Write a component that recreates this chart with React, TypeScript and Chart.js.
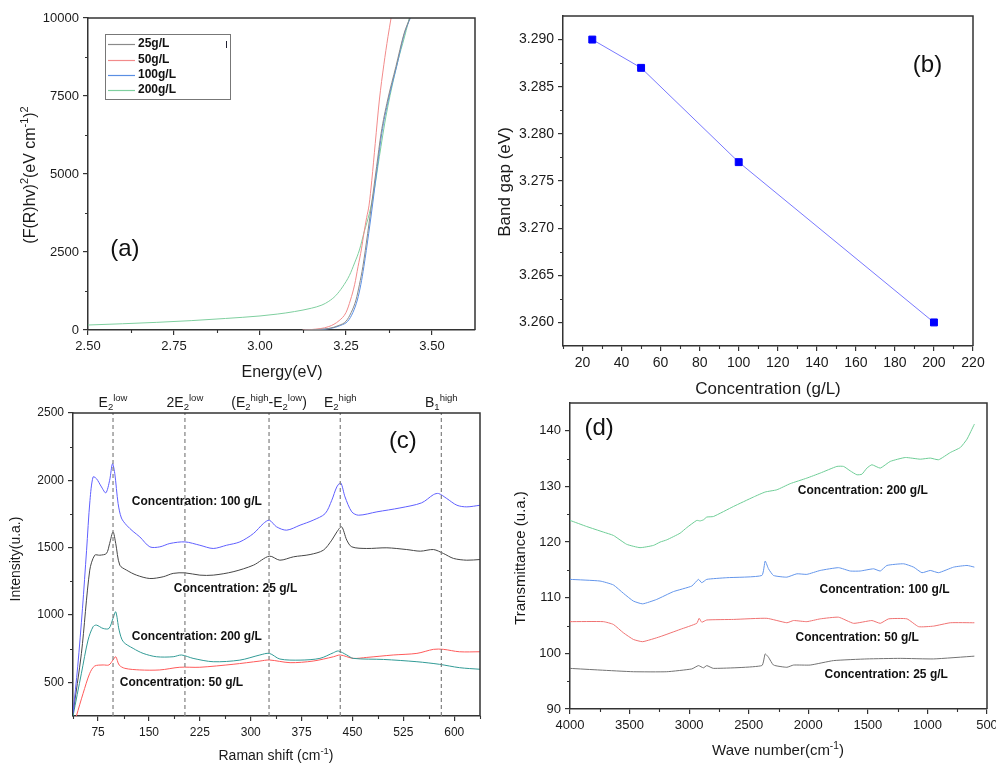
import React, { useEffect, useRef } from 'react';
import { Chart, registerables } from 'chart.js';
Chart.register(...registerables);

const FONT = "Arial, 'Liberation Sans', Helvetica, sans-serif";
const W = 996;
const H = 763;

// ---------- (a) Tauc plot ----------
const aLegend = ['25g/L', '50g/L', '100g/L', '200g/L'];
const aE25 = [3.124, 3.15, 3.2, 3.23, 3.25, 3.265, 3.279, 3.289, 3.299, 3.313, 3.326, 3.339, 3.352, 3.371, 3.395, 3.419, 3.436];
const aV25 = [0, 10, 50, 150, 280, 560, 962, 1450, 2030, 3098, 4167, 5235, 6303, 7372, 8440, 9509, 10000];
const aE50 = [3.124, 3.15, 3.2, 3.23, 3.25, 3.263, 3.275, 3.285, 3.295, 3.302, 3.31, 3.317, 3.325, 3.335, 3.347, 3.36, 3.372, 3.381];
const aV50 = [0, 15, 110, 300, 560, 962, 1450, 2030, 2600, 3098, 3600, 4000, 4800, 5980, 7372, 8500, 9400, 10000];
const aE100 = [3.13, 3.155, 3.205, 3.235, 3.255, 3.27, 3.283, 3.293, 3.302, 3.316, 3.329, 3.341, 3.354, 3.373, 3.397, 3.42, 3.437];
const aV100 = [0, 10, 50, 150, 280, 560, 962, 1450, 2030, 3098, 4167, 5235, 6303, 7372, 8440, 9509, 10000];
const aE200 = [2.5, 2.6, 2.7, 2.8, 2.9, 3.0, 3.05, 3.1, 3.15, 3.18, 3.2, 3.22, 3.24, 3.26, 3.275, 3.289, 3.303, 3.318, 3.332, 3.347, 3.366, 3.39, 3.405, 3.415, 3.425, 3.434];
const aV200 = [160, 200, 245, 300, 370, 450, 510, 590, 700, 800, 920, 1100, 1380, 1750, 2150, 2564, 3150, 3740, 4487, 5556, 6838, 8120, 8800, 9188, 9600, 10000];
const aXTicks = [2.5, 2.75, 3.0, 3.25, 3.5];
const aXMinor = [2.625, 2.875, 3.125, 3.375];
const aYTicks = [0, 2500, 5000, 7500, 10000];
const aYMinor = [1250, 3750, 6250, 8750];

// ---------- (b) Band gap ----------
const bConc = [25, 50, 100, 200];
const bGap = [3.29, 3.287, 3.277, 3.26];
const bXTicks = [20, 40, 60, 80, 100, 120, 140, 160, 180, 200, 220];
const bXMinor = [10, 30, 50, 70, 90, 110, 130, 150, 170, 190, 210];
const bYTicks = [3.26, 3.265, 3.27, 3.275, 3.28, 3.285, 3.29];
const bYMinor = [3.2625, 3.2675, 3.2725, 3.2775, 3.2825, 3.2875];

// ---------- (c) Raman ----------
const c100X = [38, 45, 52, 58, 63, 67.6, 72.5, 80, 86.4, 92, 96.2, 99.6, 104.5, 109.4, 116.9, 126.7, 136.5, 151.3, 166, 180.8, 203, 225, 244.7, 264.4, 284, 304, 318.6, 327.4, 338, 353, 372.7, 392, 409.7, 419.5, 426.9, 432.7, 439, 449, 459, 486, 520, 552, 569.5, 577, 589, 604, 618.5, 638];
const c100Y = [270, 620, 1050, 1480, 1850, 2025, 2013, 1951, 1907, 2000, 2124, 2050, 1828, 1720, 1667, 1620, 1580, 1506, 1506, 1531, 1543, 1518, 1494, 1518, 1543, 1605, 1679, 1704, 1655, 1630, 1667, 1704, 1753, 1852, 1951, 1981, 1877, 1766, 1741, 1766, 1795, 1833, 1894, 1902, 1865, 1815, 1803, 1815];
const c25X = [38, 50.4, 62.7, 70, 77.5, 87.3, 92, 97, 101, 107, 117, 131.6, 151.3, 171, 185.7, 203, 225, 244.7, 274, 304, 327.4, 343, 363, 387.5, 407, 419.5, 427, 434, 441.6, 449, 471, 500.7, 530, 550, 569.5, 584, 599, 618.5, 638];
const c25Y = [270, 715, 1333, 1444, 1444, 1457, 1531, 1617, 1531, 1370, 1333, 1296, 1271, 1284, 1309, 1313, 1296, 1296, 1321, 1370, 1437, 1407, 1432, 1449, 1481, 1556, 1617, 1655, 1556, 1506, 1494, 1499, 1486, 1474, 1486, 1457, 1420, 1407, 1412];
const c200X = [38, 50.4, 60.2, 67.6, 72.5, 82.4, 91, 97, 101, 106, 112, 126.7, 141.4, 161, 185.7, 198, 215, 244.7, 284, 313.5, 327.4, 343, 372.7, 402, 422, 429, 441.6, 451, 495.8, 545, 578, 607.6, 638];
const c200Y = [250, 567, 814, 913, 925, 900, 900, 975, 1024, 888, 802, 752, 715, 690, 690, 703, 678, 653, 665, 703, 715, 673, 665, 678, 720, 733, 703, 678, 670, 653, 634, 609, 597];
const c50X = [43, 52.9, 62.7, 70, 82.4, 91, 97, 101, 106, 114.4, 136.5, 166, 195.5, 225, 274, 313.5, 327.4, 358, 392, 422, 432, 451, 471, 510, 545, 569.5, 584, 607.6, 638];
const c50Y = [250, 418, 567, 621, 629, 629, 666, 690, 629, 604, 592, 592, 612, 612, 634, 658, 666, 646, 658, 690, 703, 678, 685, 703, 715, 745, 745, 727, 727];
const cModes = [97, 203, 327, 432, 581];
const cXTicks = [75, 150, 225, 300, 375, 450, 525, 600];
const cXMinor = [37.5, 112.5, 187.5, 262.5, 337.5, 412.5, 487.5, 562.5, 637.5];
const cYTicks = [500, 1000, 1500, 2000, 2500];
const cYMinor = [750, 1250, 1750, 2250];

// ---------- (d) FTIR ----------
const d200X = [4000, 3860, 3720, 3636, 3524, 3412, 3300, 3244, 3188, 3076, 3020, 2936, 2908, 2880, 2852, 2796, 2628, 2460, 2362, 2264, 2152, 2012, 1900, 1760, 1704, 1648, 1592, 1550, 1508, 1466, 1396, 1312, 1186, 1060, 976, 906, 808, 724, 668, 606];
const d200Y = [123.9, 122.8, 121.8, 121.2, 119.6, 119.0, 119.4, 120.0, 120.4, 121.6, 122.6, 123.9, 123.8, 124.0, 124.5, 124.6, 126.4, 128.1, 129.0, 129.4, 130.5, 131.5, 132.4, 133.6, 133.6, 132.8, 132.1, 132.2, 133.3, 133.9, 133.3, 134.5, 135.2, 134.9, 135.1, 134.8, 136.1, 137.0, 138.5, 141.2];
const d100X = [4000, 3748, 3636, 3552, 3468, 3390, 3272, 3132, 2978, 2922, 2894, 2852, 2684, 2390, 2362, 2334, 2292, 2180, 2096, 2012, 1900, 1746, 1648, 1564, 1452, 1396, 1340, 1200, 1116, 1046, 976, 906, 780, 668, 606];
const d100Y = [113.3, 113.0, 112.3, 110.8, 109.4, 108.9, 109.7, 111.1, 112.1, 113.3, 112.7, 113.3, 113.6, 114.0, 116.6, 115.2, 114.0, 113.7, 114.3, 114.2, 114.9, 115.4, 114.8, 114.8, 115.2, 114.8, 115.8, 116.1, 115.5, 114.5, 114.9, 114.5, 115.5, 115.8, 115.5];
const d50X = [4000, 3720, 3636, 3552, 3468, 3390, 3244, 3076, 2936, 2916, 2894, 2852, 2628, 2348, 2180, 2124, 2012, 1900, 1746, 1620, 1466, 1396, 1326, 1172, 1074, 948, 808, 606];
const d50Y = [105.7, 105.7, 105.2, 103.7, 102.5, 102.1, 103.0, 104.3, 105.4, 106.3, 105.6, 106.0, 106.1, 106.3, 105.5, 105.9, 105.7, 106.2, 106.5, 105.4, 105.9, 105.4, 106.2, 106.2, 104.8, 104.9, 105.5, 105.5];
const d25X = [4000, 3748, 3468, 3188, 2978, 2922, 2880, 2852, 2796, 2390, 2362, 2334, 2292, 2180, 2124, 1984, 1788, 1508, 1228, 948, 606];
const d25Y = [97.3, 97.0, 96.7, 96.7, 97.2, 97.8, 97.4, 97.8, 97.3, 97.8, 99.9, 99.3, 97.9, 97.5, 97.9, 97.9, 98.7, 99.0, 99.1, 99.0, 99.5];
const dXTicks = [4000, 3500, 3000, 2500, 2000, 1500, 1000, 500];
const dXMinor = [3750, 3250, 2750, 2250, 1750, 1250, 750];
const dYTicks = [90, 100, 110, 120, 130, 140];
const dYMinor = [95, 105, 115, 125, 135];

// ---------- helpers ----------
const pts = (xs: number[], ys: number[]) => xs.map((x, i) => ({ x, y: ys[i] }));

type Seg = [string, number]; // 0 normal, 1 sup, -1 sub

function drawRich(ctx: CanvasRenderingContext2D, segs: Seg[], cx: number, cy: number, size: number,
  opt: { rotate?: boolean; align?: 'center' | 'left'; weight?: string; color?: string } = {}) {
  const weight = opt.weight || 'normal';
  ctx.save();
  ctx.translate(cx, cy);
  if (opt.rotate) ctx.rotate(-Math.PI / 2);
  ctx.fillStyle = opt.color || '#1a1a1a';
  ctx.textAlign = 'left';
  ctx.textBaseline = 'alphabetic';
  let total = 0;
  const parts = segs.map(([t, k]) => {
    const fs = k ? size * 0.68 : size;
    ctx.font = `${weight} ${fs}px ${FONT}`;
    const w = ctx.measureText(t).width;
    total += w;
    return { t, k, fs, w };
  });
  let x = opt.align === 'left' ? 0 : -total / 2;
  const base = size * 0.36;
  for (const p of parts) {
    ctx.font = `${weight} ${p.fs}px ${FONT}`;
    const dy = p.k === 1 ? -size * 0.42 : p.k === -1 ? size * 0.24 : 0;
    ctx.fillText(p.t, x, base + dy);
    x += p.w;
  }
  ctx.restore();
}

function axis(pos: 'left' | 'bottom', min: number, max: number, ticks: number[], fmt: (v: number) => string, size: number, extra: any = {}) {
  return {
    type: 'linear',
    position: pos,
    min,
    max,
    ...extra,
    afterBuildTicks: (s: any) => { s.ticks = ticks.map((v) => ({ value: v })); },
    afterFit: (s: any) => {
      if (pos === 'left') s.width = 60; else s.height = 40;
      s.paddingLeft = 0; s.paddingRight = 0; s.paddingTop = 0; s.paddingBottom = 0;
    },
    ticks: {
      callback: (v: any) => fmt(Number(v)),
      font: { family: FONT, size },
      color: '#1a1a1a',
      padding: 4,
      autoSkip: false,
      maxRotation: 0,
      minRotation: 0,
    },
    grid: { drawOnChartArea: false, drawTicks: true, tickLength: 5, color: '#333', lineWidth: 1.2 },
    border: { display: true, color: '#333', width: 1.5 },
    title: { display: false },
  };
}

function deco(minX: number[], minY: number[], draw: (c: any, ctx: CanvasRenderingContext2D) => void) {
  return {
    id: 'deco',
    afterDraw(chart: any) {
      const { ctx, chartArea: a, scales } = chart;
      ctx.save();
      ctx.strokeStyle = '#333';
      ctx.lineWidth = 1.5;
      ctx.beginPath();
      ctx.moveTo(a.left, a.top);
      ctx.lineTo(a.right, a.top);
      ctx.lineTo(a.right, a.bottom);
      ctx.stroke();
      ctx.lineWidth = 1.1;
      ctx.beginPath();
      minX.forEach((v) => {
        const px = Math.round(scales.x.getPixelForValue(v)) + 0.5;
        ctx.moveTo(px, a.bottom);
        ctx.lineTo(px, a.bottom + 3);
      });
      minY.forEach((v) => {
        const py = Math.round(scales.y.getPixelForValue(v)) + 0.5;
        ctx.moveTo(a.left, py);
        ctx.lineTo(a.left - 3, py);
      });
      ctx.stroke();
      draw(chart, ctx);
      ctx.restore();
    },
  };
}

function label(ctx: CanvasRenderingContext2D, s: string, x: number, y: number, size: number, bold = false, align: CanvasTextAlign = 'center') {
  ctx.save();
  ctx.font = `${bold ? 'bold ' : ''}${size}px ${FONT}`;
  ctx.fillStyle = '#111';
  ctx.textAlign = align;
  ctx.textBaseline = 'middle';
  ctx.fillText(s, x, y);
  ctx.restore();
}

function baseOptions(area: { l: number; t: number; r: number; b: number }, scales: any) {
  return {
    responsive: false,
    animation: false,
    events: [],
    layout: { padding: { left: area.l - 60, top: area.t, right: W - area.r, bottom: H - area.b - 40 } },
    plugins: { legend: { display: false }, tooltip: { enabled: false } },
    scales,
  };
}

const line = (data: any[], color: string, extra: any = {}) => ({
  data,
  borderColor: color,
  backgroundColor: color,
  borderWidth: 1,
  pointRadius: 0,
  fill: false,
  ...extra,
});

// ---------- chart configs ----------
const aColors = ['#8a8a8a', '#f28b8b', '#5a8fe3', '#7fcf9f'];

function makeA(): any {
  return {
    type: 'line',
    data: {
      datasets: [
        line(pts(aE25, aV25), aColors[0], { cubicInterpolationMode: 'monotone' }),
        line(pts(aE50, aV50), aColors[1], { cubicInterpolationMode: 'monotone' }),
        line(pts(aE100, aV100), aColors[2], { cubicInterpolationMode: 'monotone' }),
        line(pts(aE200, aV200), aColors[3], { cubicInterpolationMode: 'monotone' }),
      ],
    },
    options: baseOptions({ l: 88, t: 18, r: 475, b: 330 }, {
      x: axis('bottom', 2.5, 3.625, aXTicks, (v) => v.toFixed(2), 13),
      y: axis('left', 0, 10000, aYTicks, (v) => String(Math.round(v)), 13),
    }),
    plugins: [deco(aXMinor, aYMinor, (c, ctx) => {
      const { x, y } = c.scales;
      // legend
      ctx.fillStyle = '#fff';
      ctx.fillRect(105.5, 34.5, 125, 65);
      ctx.strokeStyle = '#777';
      ctx.lineWidth = 1;
      ctx.strokeRect(105.5, 34.5, 125, 65);
      const rows = [44, 60, 75, 90];
      aLegend.forEach((name, i) => {
        ctx.strokeStyle = aColors[i];
        ctx.lineWidth = 1.2;
        ctx.beginPath();
        ctx.moveTo(108, rows[i] + 0.5);
        ctx.lineTo(135, rows[i] + 0.5);
        ctx.stroke();
        label(ctx, name, 138, rows[i], 12, true, 'left');
      });
      ctx.fillStyle = '#223';
      ctx.fillRect(226, 41, 1, 7);
      label(ctx, '(a)', x.getPixelForValue(2.607), y.getPixelForValue(2600), 24);
      drawRich(ctx, [['Energy(eV)', 0]], 282, 371, 16);
      drawRich(ctx, [['(F(R)hv)', 0], ['2', 1], ['(eV cm', 0], ['-1', 1], [')', 0], ['2', 1]], 29, 175, 16, { rotate: true });
    })],
  };
}

function makeB(): any {
  return {
    type: 'line',
    data: {
      datasets: [
        line(pts(bConc, bGap), 'rgb(120,120,255)', {
          pointStyle: 'rect',
          pointRadius: 4.9,
          pointBackgroundColor: '#0000ff',
          pointBorderColor: '#0000ff',
          pointBorderWidth: 1,
        }),
      ],
    },
    options: baseOptions({ l: 563, t: 16, r: 973, b: 346 }, {
      x: axis('bottom', 10, 220, bXTicks, (v) => String(Math.round(v)), 14),
      y: axis('left', 3.2575, 3.2925, bYTicks, (v) => v.toFixed(3), 14),
    }),
    plugins: [deco(bXMinor, bYMinor, (c, ctx) => {
      const { x, y } = c.scales;
      label(ctx, '(b)', x.getPixelForValue(196.7), y.getPixelForValue(3.28724), 24);
      drawRich(ctx, [['Concentration (g/L)', 0]], 768, 388, 17);
      drawRich(ctx, [['Band gap (eV)', 0]], 504, 182, 17, { rotate: true });
    })],
  };
}

const cModeLabels: Seg[][] = [
  [['E', 0], ['2', -1], ['low', 1]],
  [['2E', 0], ['2', -1], ['low', 1]],
  [['(E', 0], ['2', -1], ['high', 1], ['-E', 0], ['2', -1], ['low', 1], [')', 0]],
  [['E', 0], ['2', -1], ['high', 1]],
  [['B', 0], ['1', -1], ['high', 1]],
];

function makeC(): any {
  const dashes = cModes.map((m) => line(pts([m, m], [250, 2500]), '#808080', { borderDash: [4, 3], borderWidth: 1.2 }));
  return {
    type: 'line',
    data: {
      datasets: [
        ...dashes,
        line(pts(c100X, c100Y), 'rgb(95,95,255)', { tension: 0.3 }),
        line(pts(c25X, c25Y), 'rgb(70,70,70)', { tension: 0.3 }),
        line(pts(c200X, c200Y), 'rgb(50,155,150)', { tension: 0.3 }),
        line(pts(c50X, c50Y), 'rgb(255,90,90)', { tension: 0.3 }),
      ],
    },
    options: baseOptions({ l: 73, t: 413, r: 480, b: 716 }, {
      x: axis('bottom', 38, 638, cXTicks, (v) => String(Math.round(v)), 12),
      y: axis('left', 250, 2500, cYTicks, (v) => String(Math.round(v)), 12),
    }),
    plugins: [deco(cXMinor, cYMinor, (c, ctx) => {
      const { x, y } = c.scales;
      const a = c.chartArea;
      cModes.forEach((m, i) => drawRich(ctx, cModeLabels[i], x.getPixelForValue(m), a.top - 11, 14));
      label(ctx, 'Concentration: 100 g/L', x.getPixelForValue(124.7), y.getPixelForValue(1840), 12, true, 'left');
      label(ctx, 'Concentration: 25 g/L', x.getPixelForValue(186.7), y.getPixelForValue(1192), 12, true, 'left');
      label(ctx, 'Concentration: 200 g/L', x.getPixelForValue(124.7), y.getPixelForValue(839), 12, true, 'left');
      label(ctx, 'Concentration: 50 g/L', x.getPixelForValue(107), y.getPixelForValue(498), 12, true, 'left');
      label(ctx, '(c)', x.getPixelForValue(524.3), y.getPixelForValue(2290), 24);
      drawRich(ctx, [['Raman shift (cm', 0], ['-1', 1], [')', 0]], 276, 755, 14);
      drawRich(ctx, [['Intensity(u.a.)', 0]], 15, 559, 14, { rotate: true });
    })],
  };
}

function makeD(): any {
  return {
    type: 'line',
    data: {
      datasets: [
        line(pts(d200X, d200Y), 'rgb(110,205,150)', { tension: 0.15 }),
        line(pts(d100X, d100Y), 'rgb(100,150,235)', { tension: 0.15 }),
        line(pts(d50X, d50Y), 'rgb(240,115,115)', { tension: 0.15 }),
        line(pts(d25X, d25Y), 'rgb(115,115,115)', { tension: 0.15 }),
      ],
    },
    options: baseOptions({ l: 570, t: 403, r: 987, b: 709 }, {
      x: axis('bottom', 500, 4000, dXTicks, (v) => String(Math.round(v)), 13, { reverse: true }),
      y: axis('left', 90, 145, dYTicks, (v) => String(Math.round(v)), 13),
    }),
    plugins: [deco(dXMinor, dYMinor, (c, ctx) => {
      const { x, y } = c.scales;
      label(ctx, 'Concentration: 200 g/L', x.getPixelForValue(2087.6), y.getPixelForValue(129.3), 12, true, 'left');
      label(ctx, 'Concentration: 100 g/L', x.getPixelForValue(1905.6), y.getPixelForValue(111.4), 12, true, 'left');
      label(ctx, 'Concentration: 50 g/L', x.getPixelForValue(2107), y.getPixelForValue(102.8), 12, true, 'left');
      label(ctx, 'Concentration: 25 g/L', x.getPixelForValue(1863.6), y.getPixelForValue(96.1), 12, true, 'left');
      label(ctx, '(d)', x.getPixelForValue(3756), y.getPixelForValue(140.4), 24);
      drawRich(ctx, [['Wave number(cm', 0], ['-1', 1], [')', 0]], 778, 750, 15);
      drawRich(ctx, [['Transmittance (u.a.)', 0]], 520, 558, 15, { rotate: true });
    })],
  };
}

function Panel({ make }: { make: () => any }) {
  const ref = useRef<HTMLCanvasElement>(null);
  useEffect(() => {
    const chart = new Chart(ref.current as HTMLCanvasElement, make());
    return () => chart.destroy();
  }, [make]);
  return (
    <canvas
      ref={ref}
      width={W}
      height={H}
      style={{ position: 'absolute', left: 0, top: 0, width: W, height: H }}
    />
  );
}

export default function App() {
  return (
    <div style={{ position: 'fixed', left: 0, top: 0, width: W, height: H, background: '#fff', overflow: 'hidden' }}>
      <Panel make={makeA} />
      <Panel make={makeB} />
      <Panel make={makeC} />
      <Panel make={makeD} />
    </div>
  );
}
